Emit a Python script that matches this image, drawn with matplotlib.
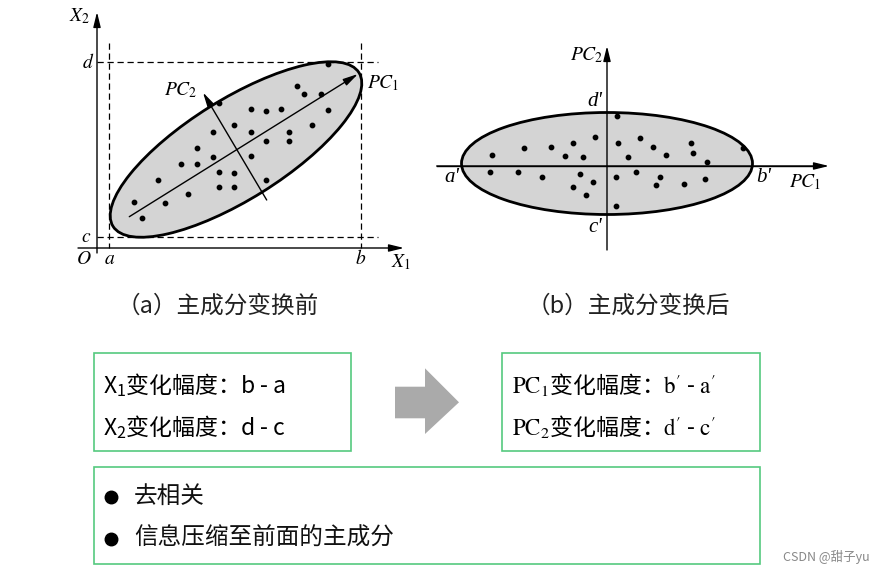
import numpy as np
import matplotlib.pyplot as plt
from matplotlib.patches import Ellipse, Rectangle, Polygon

plt.rcParams['mathtext.fontset'] = 'stix'
plt.rcParams['font.family'] = ['Noto Sans CJK SC', 'DejaVu Sans']

# points before the transform (pixel positions on the page)
left_x = [327.7, 296.7, 304, 320.7, 219.3, 251, 266, 281, 328.3, 234.3, 312.3,
          212.7, 251, 289.3, 266, 289.3, 197, 212.7, 251, 180.7, 197, 158.3,
          219.3, 234.3, 266, 219.3, 234.3, 188.3, 134, 165.3, 142]
left_y = [64, 86, 94, 94.3, 103, 109.3, 110.7, 109.3, 110, 125, 125.3,
          132, 132, 132, 140.7, 141, 148, 156.7, 156, 164.3, 164.3, 180,
          171.7, 172.7, 180.3, 186.7, 187, 194, 201.7, 203, 218.3]

# points after the transform
right_x = [617, 594.7, 618.3, 640.3, 573.3, 551, 524.3, 492.3, 565, 582.7,
           628.3, 652.7, 665.7, 691, 693.3, 742.7, 706.7, 490, 517.7, 542,
           580.3, 615.7, 635.7, 660.3, 705.3, 572.7, 593.3, 656, 684, 585.7, 615.7]
right_y = [115.7, 136.7, 142.7, 138, 142.7, 146.7, 147.7, 155, 156, 157.3,
           157.3, 146.7, 155, 142.7, 152.7, 148, 162.3, 171.7, 171.7, 176.7,
           174, 177, 172, 177.3, 178.7, 186.7, 181.7, 185, 183.7, 195, 205.7]

captions = ['（a）主成分变换前', '（b）主成分变换后']
box1_lines = [r'$\mathregular{X_1}$变化幅度：b - a', r'$\mathregular{X_2}$变化幅度：d - c']
box2_lines = [r"$\mathrm{PC}_1$变化幅度：$\mathrm{b}'$ - $\mathrm{a}'$",
              r"$\mathrm{PC}_2$变化幅度：$\mathrm{d}'$ - $\mathrm{c}'$"]
bullets = ['去相关', '信息压缩至前面的主成分']

fig = plt.figure(figsize=(8.86, 5.77), dpi=100)
ax = fig.add_axes([0, 0, 1, 1])
ax.set_xlim(0, 886)
ax.set_ylim(577, 0)
ax.axis('off')

def arrow(p0, p1, lw=1.0):
    ax.annotate('', xy=p1, xytext=p0,
                arrowprops=dict(arrowstyle='-|>,head_length=0.9,head_width=0.22',
                                color='k', lw=lw, shrinkA=0, shrinkB=0), zorder=4)

lab = dict(fontsize=14, ha='center', va='center', color='k')
ital = dict(fontsize=15, ha='center', va='center', color='k',
            family='Liberation Serif', style='italic')

# ---- left panel
ax.add_patch(Ellipse((236, 149.5), 290, 100, angle=-32, fc='#d4d4d4', ec='k', lw=2, zorder=1))
ax.scatter(left_x, left_y, s=10, c='k', zorder=3)
arrow((97, 253), (97, 12))
arrow((78, 248), (404, 248))
dash = dict(color='k', lw=0.9, ls=(0, (5, 3)), zorder=2)
ax.plot([109, 109], [43, 248], **dash)
ax.plot([361, 361], [43, 248], **dash)
ax.plot([97, 378], [61.7, 61.7], **dash)
ax.plot([97, 378], [237.3, 237.3], **dash)
arrow((129.3, 216.7), (358, 74))
arrow((266.7, 200), (203, 92.5))
ax.text(80, 16, r'$X_2$', **lab)
ax.text(88, 62, r'$d$', **lab)
ax.text(86, 236, r'$c$', **lab)
ax.text(84, 259, r'$O$', **lab)
ax.text(110, 259, r'$a$', **lab)
ax.text(361, 259, r'$b$', **lab)
ax.text(401, 262, r'$X_1$', **lab)
ax.text(181, 90, r'$PC_2$', **lab)
ax.text(383, 83, r'$PC_1$', **lab)

# ---- right panel
ax.add_patch(Ellipse((607, 163.5), 291, 102, fc='#d4d4d4', ec='k', lw=2, zorder=1))
ax.scatter(right_x, right_y, s=10, c='k', zorder=3)
ax.plot([436.7, 820], [166, 166], color='k', lw=1, zorder=2)
arrow((436.7, 166), (829, 166))
arrow((607, 250), (607, 46))
ax.text(587, 55, r'$PC_2$', **lab)
ax.text(595, 101, "d'", **ital)
ax.text(452, 178, "a'", **ital)
ax.text(764, 177, "b'", **ital)
ax.text(805, 182, r'$PC_1$', **lab)
ax.text(595, 228, "c'", **ital)

for cx, t in zip([218, 628], captions):
    ax.text(cx, 306, t, fontsize=17, ha='center', va='center', color='#222222')

# ---- boxes
green = '#55c97f'
for (x0, y0, x1, y1) in [(94, 353, 351.5, 451), (502, 353, 760, 451), (94, 466.5, 760, 563.5)]:
    ax.add_patch(Rectangle((x0, y0), x1 - x0, y1 - y0, fill=False, ec=green, lw=1.2))

for y, t in zip([385, 427], box1_lines):
    ax.text(103, y, t, fontsize=16.5, ha='left', va='center', color='k')
for y, t in zip([385, 427], box2_lines):
    ax.text(512, y, t, fontsize=16.5, ha='left', va='center', color='k')
for y, t in zip([496.5, 538.5], bullets):
    ax.plot(111, y, 'o', color='k', ms=9)
    ax.text(134, y, t, fontsize=17, ha='left', va='center', color='#111111')

ax.add_patch(Polygon([(395, 386.7), (425, 386.7), (425, 368.3), (459, 402.3),
                      (425, 434), (425, 418.3), (395, 418.3)], closed=True,
                     fc='#aaaaaa', ec='none'))

ax.text(826, 557, 'CSDN @甜子yu', fontsize=9, ha='center', va='center', color='#888888')

fig.savefig('out.png', dpi=100)
